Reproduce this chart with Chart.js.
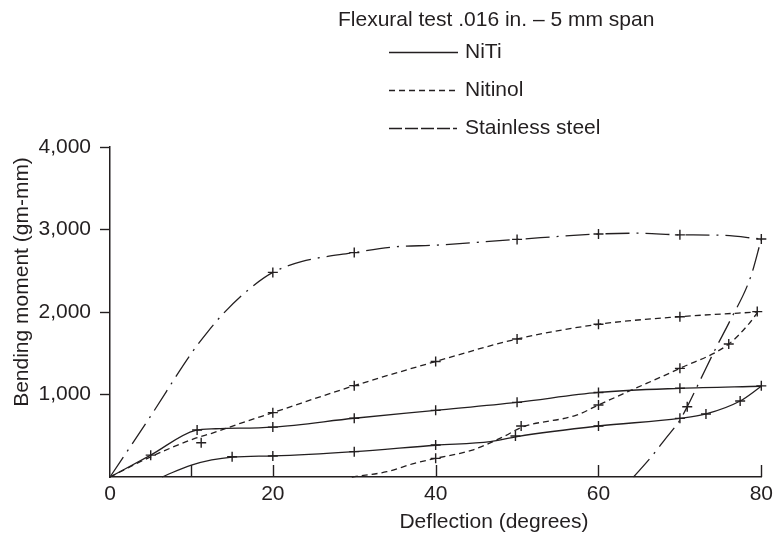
<!DOCTYPE html>
<html><head><meta charset="utf-8">
<script src="https://cdn.jsdelivr.net/npm/chart.js@4.4.1/dist/chart.umd.min.js"></script>
<style>html,body{margin:0;padding:0;background:#fff;}#wrap{position:relative;width:778px;height:541px;}</style>
</head><body><div id="wrap"><canvas id="c" width="778" height="541"></canvas></div>
<script>
// ---- data ----
const legendTitle = 'Flexural test .016 in. \u2013 5 mm span';
const seriesNames = ['NiTi', 'Nitinol', 'Stainless steel'];
const xTitle = 'Deflection (degrees)';
const yTitle = 'Bending moment (gm-mm)';
const xTickMarks = [10, 20, 40, 60, 80];

const nitiLoading = [[0,0],[5,265],[10.5,565],[13,585],[20,605],[30,712],[40,808],[50,905],[60,1025],[70,1075],[80,1100]];
const nitiUnloading = [[6.4,0],[10,145],[15,240],[20,255],[30,307],[40,385],[46.7,428],[50,490],[60,618],[70,711],[73.2,764],[77.4,921],[80,1100]];
const nitinolLoading = [[0,0],[5,245],[10.5,470],[12.5,530],[16,650],[20,780],[30,1107],[40,1400],[50,1673],[60,1851],[70,1943],[79.5,2000]];
const nitinolUnloading = [[29.7,0],[34,64],[37.4,166],[40,226],[44.5,327],[48.5,497],[50.5,600],[57.3,750],[60,873],[63.6,1034],[70,1317],[76,1612],[78.5,1860],[79.5,1990]];
const steelLoading = [[0,0],[5,740],[10,1500],[12,1760],[14,1990],[17,2270],[20,2480],[23.5,2610],[30,2720],[35,2790],[40,2810],[50,2880],[60,2945],[65,2955],[70,2935],[75,2930],[80,2885]];
const steelUnloading = [[64.3,0],[66.5,246],[68.1,448],[70,691],[70.9,852],[72.5,1176],[74.4,1560],[76.1,1883],[78.7,2428],[80,2885]];

const nitiMarkers = [[5,265],[10.7,570],[20,605],[30,712],[40,808],[50,905],[60,1025],[70,1075],[80,1105],[77.4,921],[73.2,764],[70,711],[60,618],[49.8,497],[40,388],[30,307],[20,255],[15,246]];
const nitinolMarkers = [[11.2,416],[20,780],[30,1107],[40,1400],[50,1673],[60,1851],[70,1943],[79.5,2005],[76,1612],[70,1317],[60,873],[50.5,618],[40,226]];
const steelMarkers = [[20,2480],[30,2720],[50,2880],[60,2945],[70,2935],[80,2885],[70.9,852]];

// ---- styling ----
const ink = '#231f20';
const FONT = "'Liberation Sans', Arial, Helvetica, sans-serif";
const dashes = { NiTi: [], Nitinol: [6, 4], Steel: [24, 7, 2, 7] };
Chart.defaults.font.family = FONT;
Chart.defaults.color = ink;

const toXY = a => a.map(([x, y]) => ({x, y}));
const lineDs = (label, data, dash) => ({
  label, data: toXY(data), showLine: true, borderColor: ink, borderWidth: 1.3,
  borderDash: dash, pointRadius: 0, pointHoverRadius: 0, cubicInterpolationMode: 'monotone',
  fill: false, clip: false
});
const markDs = (label, data) => ({
  label, data: toXY(data), showLine: false, pointStyle: 'cross', pointRadius: 5,
  pointHoverRadius: 5, borderColor: ink, backgroundColor: ink, pointBorderWidth: 1.4, clip: false
});

const extras = {
  id: 'extras',
  afterDraw(chart) {
    const {ctx, chartArea, scales} = chart;
    ctx.save();
    ctx.strokeStyle = ink; ctx.lineWidth = 1.4; ctx.setLineDash([]);
    xTickMarks.forEach(v => {
      const px = Math.round(scales.x.getPixelForValue(v)) + 0.5;
      ctx.beginPath(); ctx.moveTo(px, chartArea.bottom); ctx.lineTo(px, chartArea.bottom - 12); ctx.stroke();
    });
    ctx.fillStyle = ink;
    ctx.font = '21px ' + FONT;
    ctx.textAlign = 'center'; ctx.textBaseline = 'middle';
    ctx.fillText(xTitle, 494, 522);
    ctx.save(); ctx.translate(22, 282); ctx.rotate(-Math.PI / 2); ctx.fillText(yTitle, 0, 0); ctx.restore();
    ctx.textAlign = 'left';
    ctx.fillText(legendTitle, 338, 20);
    const rows = [[seriesNames[0], dashes.NiTi, 52], [seriesNames[1], dashes.Nitinol, 90], [seriesNames[2], [13, 3, 13, 3, 13, 3, 13, 3, 4, 2, 2, 9], 128]];
    rows.forEach(([name, d, y]) => {
      ctx.setLineDash(d); ctx.lineWidth = 1.3;
      ctx.beginPath(); ctx.moveTo(389, y + 0.5); ctx.lineTo(458, y + 0.5); ctx.stroke();
      ctx.setLineDash([]);
      ctx.fillText(name, 465, y);
    });
    ctx.restore();
  }
};

new Chart(document.getElementById('c'), {
  type: 'scatter',
  data: {
    datasets: [
      lineDs('NiTi', nitiLoading, dashes.NiTi),
      lineDs('NiTi', nitiUnloading, dashes.NiTi),
      lineDs('Nitinol', nitinolLoading, dashes.Nitinol),
      lineDs('Nitinol', nitinolUnloading, dashes.Nitinol),
      lineDs('Stainless steel', steelLoading, dashes.Steel),
      lineDs('Stainless steel', steelUnloading, dashes.Steel),
      markDs('NiTi', nitiMarkers),
      markDs('Nitinol', nitinolMarkers),
      markDs('Stainless steel', steelMarkers)
    ]
  },
  options: {
    responsive: false, animation: false, devicePixelRatio: 1,
    layout: { padding: { left: 0, top: 147, right: 11, bottom: 0 } },
    plugins: { legend: { display: false }, tooltip: { enabled: false } },
    scales: {
      x: {
        type: 'linear', min: 0, max: 80,
        afterFit: s => { s.height = 64; },
        grid: { drawOnChartArea: false, drawTicks: false },
        border: { display: true, color: ink, width: 1.5 },
        ticks: { stepSize: 20, padding: 5, maxRotation: 0, color: ink, font: { size: 21 } },
        title: { display: false }
      },
      y: {
        type: 'linear', min: 0, max: 4000,
        afterFit: s => { s.width = 110; },
        grid: {
          drawOnChartArea: false, drawTicks: true, tickLength: 10, tickWidth: 1.4,
          tickColor: c => (c.tick && c.tick.value === 0) ? 'rgba(0,0,0,0)' : ink
        },
        border: { display: true, color: ink, width: 1.5 },
        ticks: { stepSize: 1000, padding: 9, color: ink, font: { size: 21 },
          callback: v => v === 0 ? '' : v.toLocaleString('en-US') },
        title: { display: false }
      }
    }
  },
  plugins: [extras]
});
</script>
</body></html>
